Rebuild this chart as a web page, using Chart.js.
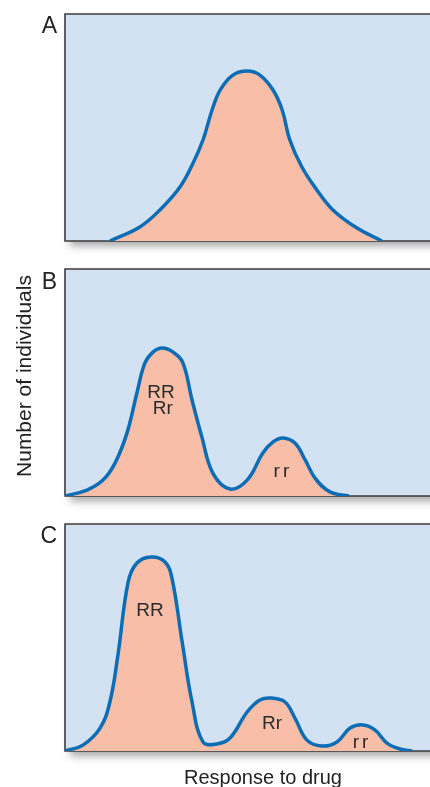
<!DOCTYPE html>
<html>
<head>
<meta charset="utf-8">
<script src="https://cdn.jsdelivr.net/npm/chart.js@4/dist/chart.umd.min.js"></script>
<style>
  html, body { margin: 0; padding: 0; background: #fff; }
  body { width: 430px; height: 787px; position: relative; overflow: hidden;
         font-family: "Liberation Sans", Arial, sans-serif; color: #222; }
  .panel { position: absolute; left: 0; width: 430px; height: 260px; }
  .letter { position: absolute; width: 57px; text-align: right; font-size: 23px; line-height: 23px; }
  .ytitle { position: absolute; left: 23px; top: 376px; font-size: 21px; line-height: 21px;
            white-space: nowrap; transform: translate(-50%, -50%) rotate(-90deg); }
  .xtitle { position: absolute; left: 0; width: 526px; top: 767px; text-align: center;
            font-size: 20px; line-height: 20px; white-space: nowrap; }
</style>
</head>
<body>
<div class="panel" style="top:0px"><canvas id="chartA" width="430" height="260"></canvas></div>
<div class="panel" style="top:255px"><canvas id="chartB" width="430" height="260"></canvas></div>
<div class="panel" style="top:510px"><canvas id="chartC" width="430" height="260"></canvas></div>

<div class="letter" style="top:14px">A</div>
<div class="letter" style="top:270px">B</div>
<div class="letter" style="top:524px">C</div>
<div class="ytitle">Number of individuals</div>
<div class="xtitle">Response to drug</div>

<script>
// Panel A: one normal distribution
const responseA = [12.3, 20.5, 26.0, 31.5, 35.1, 37.8, 40.3, 42.5, 46.0, 49.9, 53.4, 57.0, 59.5, 61.6, 64.9, 69.0, 73.4, 80.0, 86.8];
const countA    = [0, 6.2, 13.7, 23.8, 34.4, 44.5, 57.7, 66.5, 73.1, 74.9, 73.1, 66.5, 57.7, 44.5, 32.6, 22.5, 13.7, 5.7, 0];

// Panel B: RR/Rr peak and rr peak
const responseB = [0, 6.0, 10.4, 13.7, 17.0, 19.7, 21.9, 24.1, 26.6, 29.6, 32.3, 34.8, 37.5, 40.5, 45.2, 49.9, 54.2, 57.0, 59.7, 63.0, 65.8, 68.5, 72.6, 77.8];
const countB    = [0, 2.6, 7.0, 14.5, 27.8, 45.4, 58.6, 63.4, 65.2, 63.4, 58.6, 42.3, 26.0, 10.1, 3.1, 7.0, 18.9, 23.8, 25.6, 23.3, 15.9, 7.9, 1.8, 0];
const labelsB   = ['RR', 'Rr', 'rr'];
const labelXB   = [26.3, 26.8, 59.7];
const labelYB   = [43.2, 36.1, 8.4];

// Panel C: RR, Rr and rr peaks
const responseC = [0, 4.9, 9.6, 12.3, 14.5, 17.3, 19.7, 23.6, 27.4, 29.3, 32.1, 34.8, 37.8, 41.6, 45.2, 49.9, 53.4, 56.7, 60.3, 63.0, 66.3, 70.4, 74.5, 78.1, 81.6, 84.9, 88.2, 91.8, 95.1];
const countC    = [0, 2.6, 10.1, 21.6, 42.3, 74.4, 82.8, 85.5, 83.3, 76.2, 48.0, 21.6, 4.0, 3.1, 5.7, 17.2, 22.5, 23.3, 21.6, 14.5, 4.8, 2.2, 4.0, 10.1, 11.5, 9.3, 3.5, 0.9, 0];
const labelsC   = ['RR', 'Rr', 'rr'];
const labelXC   = [23.3, 56.7, 81.4];
const labelYC   = [59.5, 9.7, 1.3];

// frame, background and soft shadow under the plot box
const framePlugin = {
  id: 'frame',
  beforeDraw(chart) {
    const { ctx, chartArea: a } = chart;
    ctx.save();
    ctx.shadowColor = 'rgba(0,0,0,0.35)';
    ctx.shadowBlur = 8;
    ctx.shadowOffsetX = 5;
    ctx.shadowOffsetY = 5;
    ctx.fillStyle = '#d3e2f3';
    ctx.fillRect(a.left, a.top, a.right - a.left + 20, a.bottom - a.top);
    ctx.restore();
    ctx.save();
    ctx.strokeStyle = '#3c3c3c';
    ctx.lineWidth = 1.6;
    ctx.beginPath();
    ctx.moveTo(a.right + 10, a.top);
    ctx.lineTo(a.left, a.top);
    ctx.lineTo(a.left, a.bottom);
    ctx.lineTo(a.right + 10, a.bottom);
    ctx.stroke();
    ctx.restore();
  }
};

// genotype labels placed in data coordinates
const genoPlugin = {
  id: 'geno',
  afterDatasetsDraw(chart, args, opts) {
    if (!opts.text) return;
    const { ctx, scales } = chart;
    ctx.save();
    ctx.fillStyle = '#2a2a2a';
    ctx.font = '19px "Liberation Sans", Arial, sans-serif';
    ctx.textAlign = 'center';
    ctx.textBaseline = 'alphabetic';
    opts.text.forEach((t, i) => {
      ctx.letterSpacing = t === 'rr' ? '3px' : '0px';
      ctx.fillText(t, scales.x.getPixelForValue(opts.x[i]), scales.y.getPixelForValue(opts.y[i]));
    });
    ctx.restore();
  }
};

function makePanel(id, xs, ys, text, lx, ly) {
  const ctx = document.getElementById(id).getContext('2d');
  return new Chart(ctx, {
    type: 'line',
    data: {
      datasets: [{
        data: xs.map((x, i) => ({ x: x, y: ys[i] })),
        borderColor: '#0b6db5',
        borderWidth: 3.5,
        backgroundColor: '#f8bea7',
        fill: 'origin',
        pointRadius: 0,
        tension: 0.4,
      }],
    },
    options: {
      responsive: false,
      animation: false,
      events: [],
      layout: { padding: { top: 14, left: 65, right: 0, bottom: 19 } },
      plugins: {
        legend: { display: false },
        tooltip: { enabled: false },
        geno: { text: text, x: lx, y: ly },
      },
      scales: {
        x: { type: 'linear', min: 0, max: 100, display: false },
        y: { min: 0, max: 100, display: false },
      },
    },
    plugins: [framePlugin, genoPlugin],
  });
}

makePanel('chartA', responseA, countA, null, null, null);
makePanel('chartB', responseB, countB, labelsB, labelXB, labelYB);
makePanel('chartC', responseC, countC, labelsC, labelXC, labelYC);
</script>
</body>
</html>
